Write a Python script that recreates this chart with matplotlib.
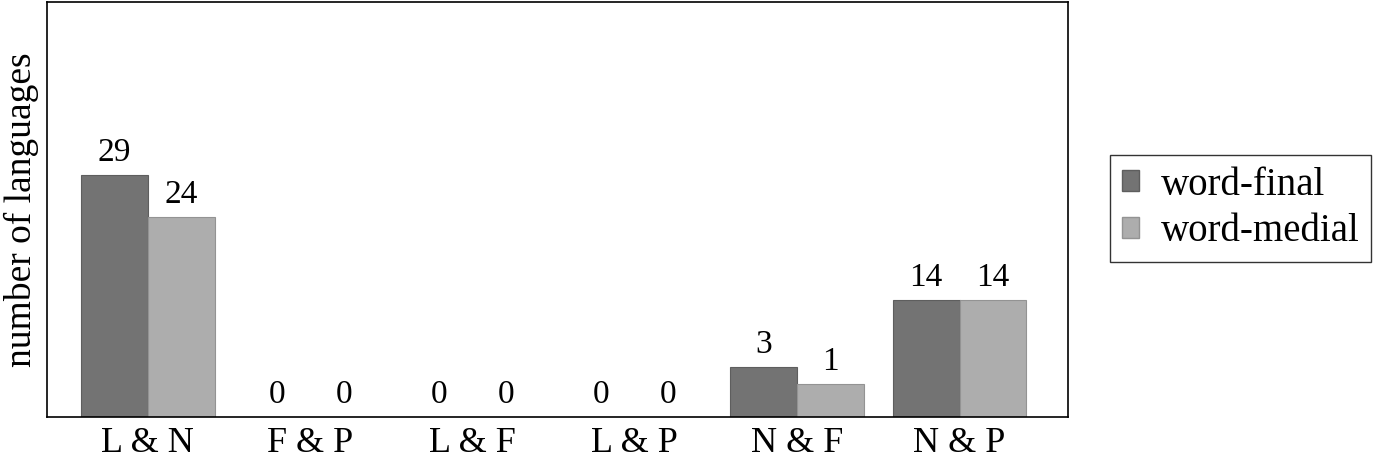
import matplotlib.pyplot as plt
import numpy as np
from matplotlib.patches import Patch

categories = ["L & N", "F & P", "L & F", "L & P", "N & F", "N & P"]
series_names = ["word-final", "word-medial"]
# printed counts
final_counts = [29, 0, 0, 0, 3, 14]
medial_counts = [24, 0, 0, 0, 1, 14]
# bar heights as drawn in the source figure (N & F bars are taller than their labels)
final_heights = [29, 0, 0, 0, 6, 14]
medial_heights = [24, 0, 0, 0, 4, 14]

plt.rcParams["font.family"] = ["Liberation Serif", "DejaVu Serif"]

fig = plt.figure(figsize=(13.9, 4.57), dpi=100)
ax = fig.add_axes([0.034, 0.0875, 0.734, 0.908])

x = np.arange(len(categories))
width = 0.412
dark, light = "#737373", "#adadad"
dark_edge, light_edge = "#5e5e5e", "#939393"
bars1 = ax.bar(x - width / 2, final_heights, width, color=dark, edgecolor=dark_edge, linewidth=0.8)
bars2 = ax.bar(x + width / 2, medial_heights, width, color=light, edgecolor=light_edge, linewidth=0.8)

for bars, counts in ((bars1, final_counts), (bars2, medial_counts)):
    for b, c in zip(bars, counts):
        ax.annotate(str(c), (b.get_x() + b.get_width() / 2, b.get_height()),
                    xytext=(0, 5), textcoords="offset points",
                    ha="center", va="bottom", fontsize=24)

ax.set_xlim(-0.62, 5.665)
ax.set_ylim(0, 49.7)
ax.set_xticks(x)
ax.set_xticklabels(categories, fontsize=26)
ax.set_yticks([])
ax.tick_params(axis="x", length=0, pad=7)
ax.set_ylabel("number of languages", fontsize=27, labelpad=6)
for s in ax.spines.values():
    s.set_linewidth(1.2)

handles = [Patch(facecolor=dark, edgecolor=dark_edge), Patch(facecolor=light, edgecolor=light_edge)]
leg = fig.legend(handles, series_names, loc="upper left", bbox_to_anchor=(0.7985, 0.661),
                 fontsize=28, frameon=True, fancybox=False, edgecolor="black",
                 handlelength=0.45, handleheight=0.45, handletextpad=0.55, borderpad=0.3,
                 labelspacing=0.25, borderaxespad=0)
leg.get_frame().set_linewidth(1.0)

fig.savefig("out.png", dpi=100)
